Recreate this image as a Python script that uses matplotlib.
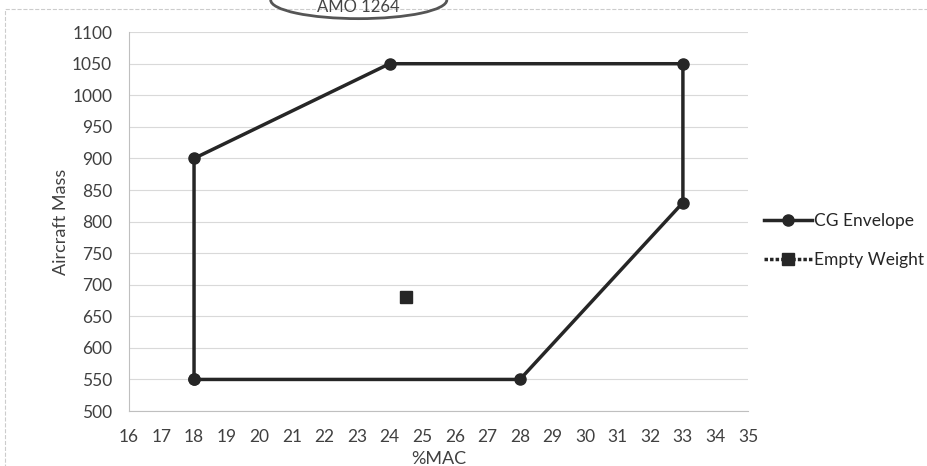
import numpy as np
import matplotlib.pyplot as plt
from matplotlib.patches import Ellipse, Rectangle

# CG envelope corners (%MAC, mass)
env_mac = [18, 18, 24, 33, 33, 28, 18]
env_mass = [550, 900, 1050, 1050, 830, 550, 550]
# empty weight point
ew_mac = [24.5]
ew_mass = [680]

plt.rcParams['font.family'] = ['Lato', 'DejaVu Sans']

fig = plt.figure(figsize=(9.27, 4.66), dpi=100)
ax = fig.add_axes([0.139, 0.118, 0.668, 0.813])

ax.plot(env_mac, env_mass, color='#262626', lw=2.5, marker='o', ms=8,
        label='CG Envelope', zorder=3)
ax.plot(ew_mac, ew_mass, color='#262626', lw=2.5, ls=(0, (1, 0.6)), marker='s', ms=9,
        label='Empty Weight', zorder=3)

ax.set_xlim(16, 35)
ax.set_ylim(500, 1100)
ax.set_xticks(np.arange(16, 36, 1))
ax.set_yticks(np.arange(500, 1101, 50))
ax.grid(axis='y', color='#d9d9d9', lw=0.8)
ax.set_axisbelow(True)
for s in ['top', 'right']:
    ax.spines[s].set_visible(False)
for s in ['left', 'bottom']:
    ax.spines[s].set_color('#bfbfbf')
ax.tick_params(length=0, labelsize=12.5, colors='#404040')
ax.tick_params(axis='x', pad=13)
ax.tick_params(axis='y', pad=12)
ax.set_xlabel('%MAC', fontsize=13, color='#404040', labelpad=4)
ax.set_ylabel('Aircraft Mass', fontsize=13, color='#404040', labelpad=2)

ax.legend(loc='center left', bbox_to_anchor=(1.0, 0.45), frameon=False,
          fontsize=12.5, handlelength=2.8, labelspacing=1.3, handletextpad=0.1,
          labelcolor='#262626')

# chart border and stamp
fig.patches.append(Rectangle((0.005, -0.1), 1.2, 1.08, transform=fig.transFigure,
                             fill=False, ec='#cccccc', lw=0.8, ls='--'))
fig.patches.append(Ellipse((0.387, 1.0), 0.19, 0.08, transform=fig.transFigure,
                           fill=False, ec='#555555', lw=2))
fig.text(0.387, 0.984, 'AMO 1264', ha='center', va='center', fontsize=12,
         color='#444444')

fig.savefig('out.png', dpi=100)
